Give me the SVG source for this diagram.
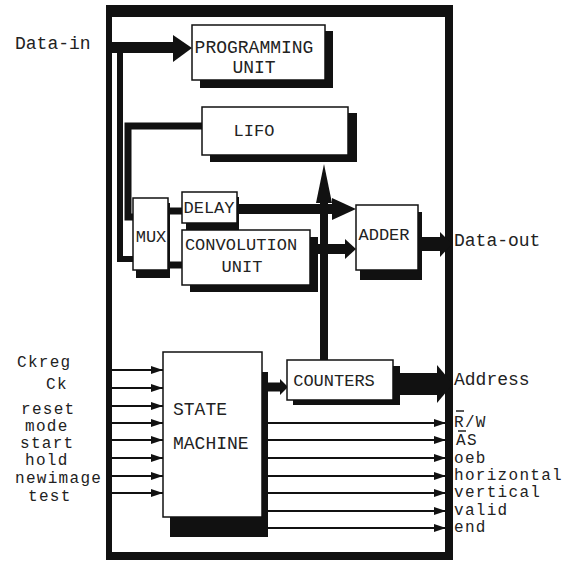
<svg xmlns="http://www.w3.org/2000/svg" width="570" height="562" viewBox="0 0 570 562">
<defs>
<style>
.t{font-family:"Liberation Mono","DejaVu Sans Mono",monospace;font-size:18px;fill:#222}
.s{font-family:"Liberation Mono","DejaVu Sans Mono",monospace;font-size:16px;letter-spacing:1.3px;fill:#222}
.b{font-family:"Liberation Mono","DejaVu Sans Mono",monospace;font-size:17px;fill:#222}
.box{fill:#fff;stroke:#111;stroke-width:1.5}
.sh{fill:#111}
.thin{stroke:#111;stroke-width:2;fill:none}
.thick{stroke:#111;fill:none}
.ah{fill:#111}
</style>
<marker id="arr" viewBox="0 0 12 8" refX="12" refY="4" markerWidth="12" markerHeight="8" markerUnits="userSpaceOnUse" orient="auto">
<path d="M0,0 L12,4 L0,8 Z" fill="#111"/>
</marker>
</defs>
<rect width="570" height="562" fill="#fff"/>

<g id="frame">
<rect x="106" y="5" width="347" height="12" fill="#111"/>
<rect x="106" y="5" width="6" height="555" fill="#111"/>
<rect x="445" y="5" width="8" height="555" fill="#111"/>
<rect x="106" y="552" width="347" height="8" fill="#111"/>
</g>

<g id="connectors">
<line class="thick" x1="112" y1="47.5" x2="176" y2="47.5" stroke-width="11"/>
<polygon class="ah" points="173,35 192,48 173,62"/>
<polyline class="thick" points="120,47 120,259 133,259" stroke-width="6"/>
<polyline class="thick" points="202,126 128,126 128,217 133,217" stroke-width="7"/>
<line class="thick" x1="168" y1="211" x2="182" y2="211" stroke-width="7"/>
<line class="thick" x1="168" y1="265" x2="182" y2="265" stroke-width="7"/>
<line class="thick" x1="237" y1="209" x2="334" y2="209" stroke-width="10"/>
<polygon class="ah" points="332,198 356,209 332,220"/>
<line class="thick" x1="318" y1="249" x2="348" y2="249" stroke-width="10"/>
<polygon class="ah" points="345,239 356,249 345,259"/>
<line class="thick" x1="324" y1="360" x2="324" y2="198" stroke-width="8"/>
<polygon class="ah" points="316,203 324,164 332,203"/>
<line class="thick" x1="418" y1="244" x2="442" y2="244" stroke-width="14"/>
<polygon class="ah" points="440,232 452,244 440,257"/>
<line class="thick" x1="268" y1="387" x2="282" y2="387" stroke-width="9"/>
<polygon class="ah" points="280,379 288,387 280,395"/>
<line class="thick" x1="400" y1="384" x2="440" y2="384" stroke-width="22"/>
<polygon class="ah" points="437,365 453,384 437,403"/>
<line class="thin" x1="112" y1="370" x2="163" y2="370" marker-end="url(#arr)"/>
<line class="thin" x1="112" y1="388" x2="163" y2="388" marker-end="url(#arr)"/>
<line class="thin" x1="112" y1="406" x2="163" y2="406" marker-end="url(#arr)"/>
<line class="thin" x1="112" y1="423" x2="163" y2="423" marker-end="url(#arr)"/>
<line class="thin" x1="112" y1="440" x2="163" y2="440" marker-end="url(#arr)"/>
<line class="thin" x1="112" y1="458" x2="163" y2="458" marker-end="url(#arr)"/>
<line class="thin" x1="112" y1="476" x2="163" y2="476" marker-end="url(#arr)"/>
<line class="thin" x1="112" y1="493" x2="163" y2="493" marker-end="url(#arr)"/>
<line class="thin" x1="268" y1="423" x2="446" y2="423" marker-end="url(#arr)"/>
<line class="thin" x1="268" y1="440" x2="446" y2="440" marker-end="url(#arr)"/>
<line class="thin" x1="268" y1="458" x2="446" y2="458" marker-end="url(#arr)"/>
<line class="thin" x1="268" y1="476" x2="446" y2="476" marker-end="url(#arr)"/>
<line class="thin" x1="268" y1="493" x2="446" y2="493" marker-end="url(#arr)"/>
<line class="thin" x1="268" y1="511" x2="446" y2="511" marker-end="url(#arr)"/>
<line class="thin" x1="268" y1="528" x2="446" y2="528" marker-end="url(#arr)"/>
</g>

<g id="programming-unit">
<rect class="sh" x="200" y="31" width="133" height="57"/>
<rect class="box" x="192" y="25" width="133" height="55"/>
<text class="t" x="254" y="53" text-anchor="middle">PROGRAMMING</text>
<text class="t" x="254" y="73" text-anchor="middle">UNIT</text>
</g>

<g id="lifo">
<rect class="sh" x="210" y="113" width="147" height="49"/>
<rect class="box" x="202" y="107" width="146" height="48"/>
<text class="b" x="254" y="136" text-anchor="middle">LIFO</text>
</g>

<g id="mux">
<rect class="sh" x="136" y="203" width="34" height="75"/>
<rect class="box" x="133" y="198" width="35" height="72"/>
<text class="b" x="151" y="242" text-anchor="middle">MUX</text>
</g>

<g id="delay">
<rect class="sh" x="186" y="197" width="53" height="33"/>
<rect class="box" x="182" y="192" width="55" height="31"/>
<text class="b" x="209" y="213" text-anchor="middle">DELAY</text>
</g>

<g id="convolution-unit">
<rect class="sh" x="190" y="237" width="128" height="55"/>
<rect class="box" x="182" y="230" width="128" height="55"/>
<text class="b" x="241" y="250" text-anchor="middle">CONVOLUTION</text>
<text class="b" x="242" y="272" text-anchor="middle">UNIT</text>
</g>

<g id="adder">
<rect class="sh" x="360" y="212" width="62" height="68"/>
<rect class="box" x="356" y="205" width="62" height="65"/>
<text class="b" x="384" y="240" text-anchor="middle">ADDER</text>
</g>

<g id="counters">
<rect class="sh" x="293" y="366" width="107" height="39"/>
<rect class="box" x="287" y="360" width="106" height="40"/>
<text class="b" x="334" y="386" text-anchor="middle">COUNTERS</text>
</g>

<g id="state-machine">
<rect class="sh" x="170" y="372" width="98" height="165"/>
<rect class="box" x="163" y="352" width="99" height="165"/>
<text class="t" x="173" y="415">STATE</text>
<text class="t" x="173" y="449">MACHINE</text>
</g>

<g id="labels">
<text class="t" x="15" y="49">Data-in</text>
<text class="t" x="454" y="246">Data-out</text>
<text class="t" x="454" y="385">Address</text>
<text class="s" x="17" y="367">Ckreg</text>
<text class="s" x="46" y="389">Ck</text>
<text class="s" x="21" y="414">reset</text>
<text class="s" x="25" y="431">mode</text>
<text class="s" x="20" y="448">start</text>
<text class="s" x="25" y="465">hold</text>
<text class="s" x="15" y="483">newimage</text>
<text class="s" x="28" y="501">test</text>
<text class="s" x="454" y="427">R/W</text>
<line x1="456" y1="411" x2="464" y2="411" stroke="#222" stroke-width="1.5"/>
<text class="s" x="456" y="445">AS</text>
<line x1="458" y1="431" x2="466" y2="431" stroke="#222" stroke-width="1.5"/>
<text class="s" x="454" y="463">oeb</text>
<text class="s" x="454" y="480">horizontal</text>
<text class="s" x="454" y="497">vertical</text>
<text class="s" x="454" y="515">valid</text>
<text class="s" x="454" y="532">end</text>
</g>
</svg>
